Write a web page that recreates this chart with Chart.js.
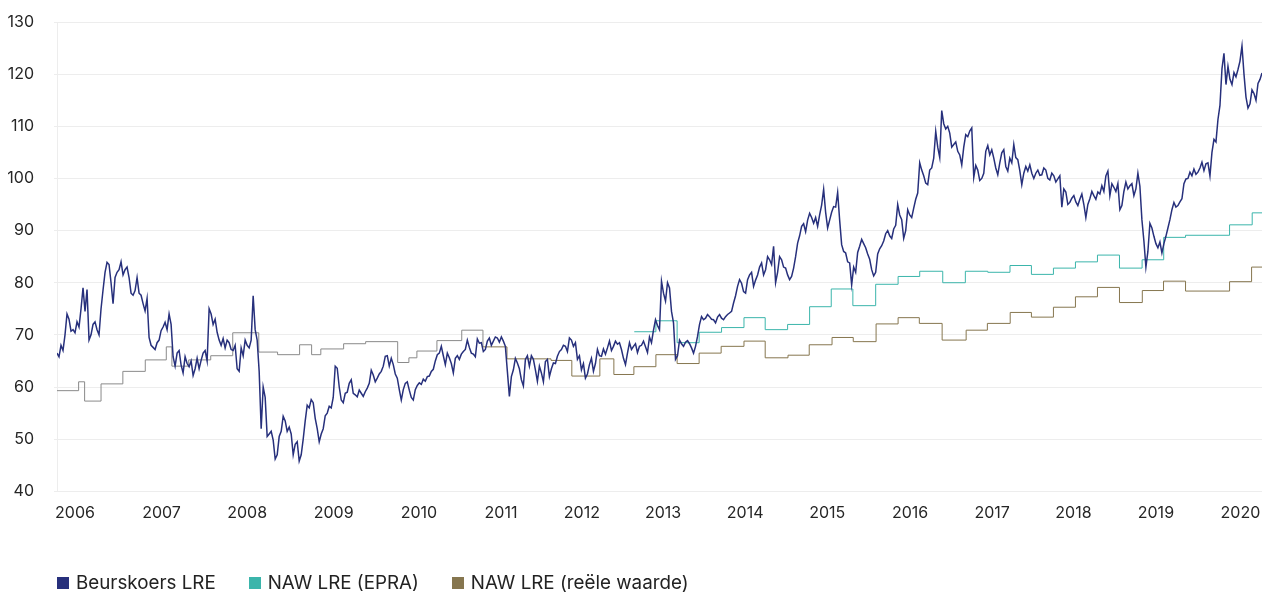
<!DOCTYPE html>
<html>
<head>
<meta charset="utf-8">
<script src="https://cdn.jsdelivr.net/npm/chart.js@4.4.1/dist/chart.umd.min.js"></script>
<style>
  html, body { margin: 0; padding: 0; background: #ffffff; }
  #wrap { position: relative; width: 1263px; height: 594px; }
  canvas { display: block; }
  #legend { position: absolute; left: 57px; top: 572px; display: flex; align-items: center;
            font-family: Inter, sans-serif; font-size: 18.8px; color: #222; line-height: 22px; }
  .item { display: flex; align-items: center; margin-right: 33px; }
  .box { width: 12px; height: 12px; margin-right: 7px; }
</style>
</head>
<body>
<div id="wrap">
  <canvas id="c" width="1263" height="594"></canvas>
  <div id="legend"></div>
</div>
<script>
// Years shown on the x axis and the sample position where each year begins
const years = ['2006','2007','2008','2009','2010','2011','2012','2013','2014','2015','2016','2017','2018','2019','2020'];
const yearStarts = [9, 52.2, 95, 138.2, 180.8, 221.8, 262.2, 302.8, 343.8, 384.8, 426.2, 467.2, 507.8, 549, 591.2];

// Beurskoers LRE (share price), one value per sample (late 2005 -> spring 2020)
const beurskoers = [
  66.5, 65.8, 68, 67, 70, 74, 73, 70.7, 71, 70.4,
  72.5, 71.5, 75, 79, 74.5, 78.7, 69, 70, 72, 72.5,
  71, 70, 75, 78.6, 82, 83.9, 83.5, 80, 76, 81,
  82, 82.5, 84, 81.5, 82.5, 83, 81, 78, 77.6, 78.5,
  81, 78, 77.6, 76, 74.6, 77, 69.5, 68, 67.6, 67.2,
  68.5, 69, 70.8, 71.5, 72.4, 71, 74, 72, 65.8, 64,
  66.5, 67, 64.2, 62.7, 65.8, 64.5, 63.9, 65, 62.2, 63.5,
  65.5, 63.5, 65.1, 66.5, 67, 65, 75, 74, 72, 73,
  70.5, 69, 68, 69.3, 67.5, 69, 68.5, 67.2, 67, 68,
  63.5, 63, 67.5, 66, 69, 68, 67.5, 69, 77.5, 71,
  69, 63, 52, 60, 58, 50.5, 51, 51.5, 49.8, 46.2,
  47, 50.5, 51.5, 54.4, 53.5, 51.5, 52.3, 51, 47, 49,
  49.5, 45.8, 47, 50, 53.5, 56.5, 56, 57.6, 57, 54,
  52, 49.5, 51, 52, 54.5, 55, 56.3, 56, 58, 64,
  63.6, 60, 57.5, 57, 58.8, 59, 60.7, 61.4, 58.8, 58.5,
  58.1, 59.4, 58.8, 58.2, 59.1, 59.8, 60.7, 63.2, 62.3, 61,
  61.7, 62.5, 63, 64, 65.9, 66, 64, 65.5, 64.3, 62.5,
  61.7, 59.5, 57.5, 59.5, 60.7, 61, 59.4, 58, 57.5, 59.5,
  60.3, 60.8, 60.5, 61.5, 61.1, 62, 62.1, 63, 63.4, 65,
  66.2, 66.5, 67.8, 66, 64.3, 66.5, 65.6, 64.5, 62.7, 65.5,
  66, 65.3, 66.3, 66.8, 67.2, 69, 67.6, 66.5, 66.3, 65.8,
  69.2, 68.4, 68.5, 66.8, 67.2, 68.8, 69.4, 68, 68.8, 69.6,
  69.4, 68.6, 69.6, 68.8, 67.8, 63, 58.2, 62, 63.3, 65.5,
  64.6, 63.5, 61.4, 60.2, 65.3, 66, 64, 66, 65.3, 63.3,
  61.1, 64, 62.7, 61, 64.9, 65.3, 62, 63.5, 64.6, 64.5,
  65.9, 66.8, 67.2, 68, 67.8, 66.8, 69.4, 69, 67.8, 68.5,
  65.3, 66, 63.3, 64.5, 61.7, 62.5, 64.3, 65.5, 63, 64.5,
  67.2, 66, 65.9, 67.3, 66.3, 67.5, 68.8, 67, 67.8, 68.8,
  68.2, 68.5, 67.2, 65.5, 64.3, 66.5, 68.5, 67.2, 67.8, 68.3,
  66.6, 67.8, 68, 68.8, 67.7, 66.6, 69.6, 68.5, 70.9, 72.9,
  71.8, 71, 80.3, 78, 76.5, 80, 79, 74.5, 72.3, 65.3,
  66, 69, 68.3, 67.8, 68.6, 68.9, 68.3, 67.5, 66.5, 67.8,
  69.7, 72, 73.5, 72.9, 73.2, 73.9, 73.5, 73, 72.9, 72.3,
  73.4, 73.9, 73.2, 72.9, 73.5, 73.9, 74.2, 74.5, 76.1, 77.5,
  79.3, 80.6, 79.9, 78.3, 78, 80.6, 81.5, 82, 79.3, 80.5,
  81.5, 83, 83.8, 81.5, 82.5, 85, 84.4, 83.5, 87, 80,
  82, 85, 84.4, 83, 82.8, 81.5, 80.6, 81.2, 82.8, 85,
  87.6, 89, 90.8, 91.3, 89.8, 92, 93.3, 92.5, 91.4, 92.5,
  90.8, 93, 94.9, 97.9, 93.5, 90.5, 92, 93.5, 94.6, 94.5,
  97.3, 92, 87.3, 86, 85.7, 84, 83.8, 79.6, 83, 82,
  85.8, 87, 88.3, 87.5, 86.7, 85.5, 84.5, 82.5, 81.3, 82,
  85.5, 86.5, 87.1, 88, 89.4, 90, 89, 88.5, 90.3, 91,
  95, 93, 92.1, 88.5, 90, 94, 93, 92.5, 94.3, 96,
  97.2, 103, 101.6, 100.5, 99.1, 98.8, 101.6, 102, 103.9, 109,
  106, 104, 113, 110.5, 109.5, 110, 108.7, 106, 106.5, 107,
  105.2, 104.5, 102.6, 106, 108.4, 108, 109.1, 109.7, 100.2, 102.5,
  101.6, 99.6, 100, 101, 105.2, 106.3, 104.5, 105.5, 103.9, 102,
  100.7, 103, 104.9, 105.5, 102.3, 101.4, 103.9, 103, 106.5, 104,
  103.6, 101.5, 98.8, 101, 102.3, 101.4, 102.6, 101, 100, 101,
  101.6, 100.6, 100.7, 102, 101.6, 100, 99.7, 101, 100.5, 99.3,
  99.9, 100.5, 94.5, 98, 97.4, 95, 95.4, 96.2, 96.7, 95.5,
  94.8, 96, 97, 95, 92.5, 95, 96.1, 97.5, 96.7, 96,
  97.4, 97, 98.6, 97.5, 100.5, 101.4, 96.7, 99, 98.3, 97.5,
  99, 94, 94.8, 97.5, 99.3, 98, 98.6, 99, 96.7, 98,
  101, 98.5, 92.1, 88, 83, 86, 91.4, 90.5, 88.9, 87.5,
  86.7, 87.8, 85.7, 87.5, 88.9, 90.5, 92.1, 94, 95.4, 94.5,
  94.8, 95.5, 96.1, 99, 99.9, 100, 101.2, 100.5, 101.8, 100.8,
  101.2, 102, 103.1, 101.5, 102.8, 103, 100.5, 105, 107.5, 107,
  111.3, 114, 121, 124, 118, 121.5, 119, 118, 120.3, 119.5,
  120.9, 122.5, 125.4, 120, 115.6, 113.5, 114.3, 117, 116.3, 115,
  118.2, 119, 120.2
];

// NAW LRE (EPRA): sample where each new quarterly value starts, and the value
const epraStart = [288.4, 299.2, 309.8, 320.8, 332, 343.2, 353.8, 365, 376, 386.8,
                   397.6, 409, 420.2, 431, 442.5, 453.8, 465, 476.1, 486.8, 497.8,
                   508.8, 519.8, 530.8, 542.1, 552.9, 563.8, 585.8, 597.1, 602];
const epraValue = [70.6, 72.7, 68.5, 70.5, 71.4, 73.3, 71.0, 72.0, 75.4, 78.8,
                   75.6, 79.7, 81.2, 82.2, 80.0, 82.2, 82.0, 83.3, 81.6, 82.8,
                   84.0, 85.3, 82.8, 84.4, 88.7, 89.1, 91.1, 93.4, 93.4];

// NAW LRE (reële waarde): sample where each new value starts, and the value
const fvStart = [0, 10.8, 13.8, 22, 32.9, 44.1, 54.6, 57.4, 65.8, 76.8,
                 87.8, 100.8, 110.2, 121.2, 127.2, 131.8, 143.2, 154.2, 170.2, 175.8,
                 179.8, 189.8, 202.2, 212.8, 224.8, 246.8, 257.2, 271.2, 278.2, 288.2,
                 299.2, 309.8, 320.8, 331.8, 343.2, 353.8, 365.2, 375.8, 387.2, 397.8,
                 409.2, 420.2, 430.8, 442.2, 454.2, 464.8, 476.2, 486.8, 497.8, 508.8,
                 519.8, 530.8, 542.2, 552.8, 563.8, 585.8, 596.8, 602];
const fvValue = [59.3, 61.0, 57.3, 60.6, 63.0, 65.2, 67.7, 64.0, 65.2, 66.0,
                 70.4, 66.7, 66.2, 68.1, 66.2, 67.3, 68.3, 68.7, 64.7, 65.6,
                 66.9, 68.9, 70.9, 67.7, 65.4, 65.1, 62.1, 65.4, 62.4, 63.9,
                 66.2, 64.5, 66.5, 67.8, 68.8, 65.6, 66.1, 68.1, 69.5, 68.7,
                 72.1, 73.3, 72.2, 69.0, 70.9, 72.2, 74.3, 73.4, 75.3, 77.3,
                 79.1, 76.2, 78.5, 80.3, 78.4, 80.2, 83.0, 83.0];

const labels = ['Beurskoers LRE', 'NAW LRE (EPRA)', 'NAW LRE (reële waarde)'];
const colors = { stock: '#27307c', epra: '#3bb5ab', fv: '#86764f', fvOld: '#8a8a8a' };
const fvColorSwitch = 212; // older part of the fair-value series is drawn in grey

const stockData = beurskoers.map((v, i) => ({ x: i, y: v }));
const epraData = epraStart.map((s, i) => ({ x: s, y: epraValue[i] }));
const fvData = fvStart.map((s, i) => ({ x: s, y: fvValue[i] }));

Chart.defaults.font.family = 'Inter, sans-serif';
Chart.defaults.font.size = 16;
Chart.defaults.color = '#262626';

const chart = new Chart(document.getElementById('c'), {
  type: 'line',
  data: {
    datasets: [
      { label: labels[2], data: fvData, borderColor: colors.fv, borderWidth: 1, stepped: true,
        pointRadius: 0, legendColor: colors.fv, order: 3,
        segment: { borderColor: ctx => ctx.p0.parsed.x < fvColorSwitch ? colors.fvOld : colors.fv } },
      { label: labels[1], data: epraData, borderColor: colors.epra, borderWidth: 1, stepped: true,
        pointRadius: 0, legendColor: colors.epra, order: 2 },
      { label: labels[0], data: stockData, borderColor: colors.stock, borderWidth: 1.5,
        pointRadius: 0, legendColor: colors.stock, order: 1 }
    ]
  },
  options: {
    responsive: false,
    animation: false,
    layout: { padding: { top: 22, right: 1, bottom: 59.5, left: 0 } },
    plugins: { legend: { display: false }, tooltip: { enabled: false } },
    scales: {
      x: {
        type: 'linear', min: 0, max: beurskoers.length - 1,
        grid: { display: false, drawTicks: false },
        border: { display: false },
        afterBuildTicks: axis => { axis.ticks = yearStarts.map(v => ({ value: v })); },
        afterFit: scale => { scale.paddingLeft = 0; scale.paddingRight = 0; },
        ticks: { autoSkip: false, maxRotation: 0, padding: 12,
                 callback: (value, index) => years[index] }
      },
      y: {
        min: 40, max: 130,
        afterFit: scale => { scale.width = 57; scale.paddingTop = 0; scale.paddingBottom = 0; },
        grid: { color: '#ededed', lineWidth: 1, tickLength: 3 },
        border: { display: true, color: '#ededed' },
        ticks: { stepSize: 10, padding: 20 }
      }
    }
  }
});

// Legend, in the original's order
const legendEl = document.getElementById('legend');
[2, 1, 0].forEach(k => {
  const ds = chart.data.datasets[k];
  const item = document.createElement('div');
  item.className = 'item';
  const box = document.createElement('span');
  box.className = 'box';
  box.style.background = ds.legendColor;
  const txt = document.createElement('span');
  txt.textContent = ds.label;
  item.appendChild(box);
  item.appendChild(txt);
  legendEl.appendChild(item);
});
</script>
</body>
</html>
